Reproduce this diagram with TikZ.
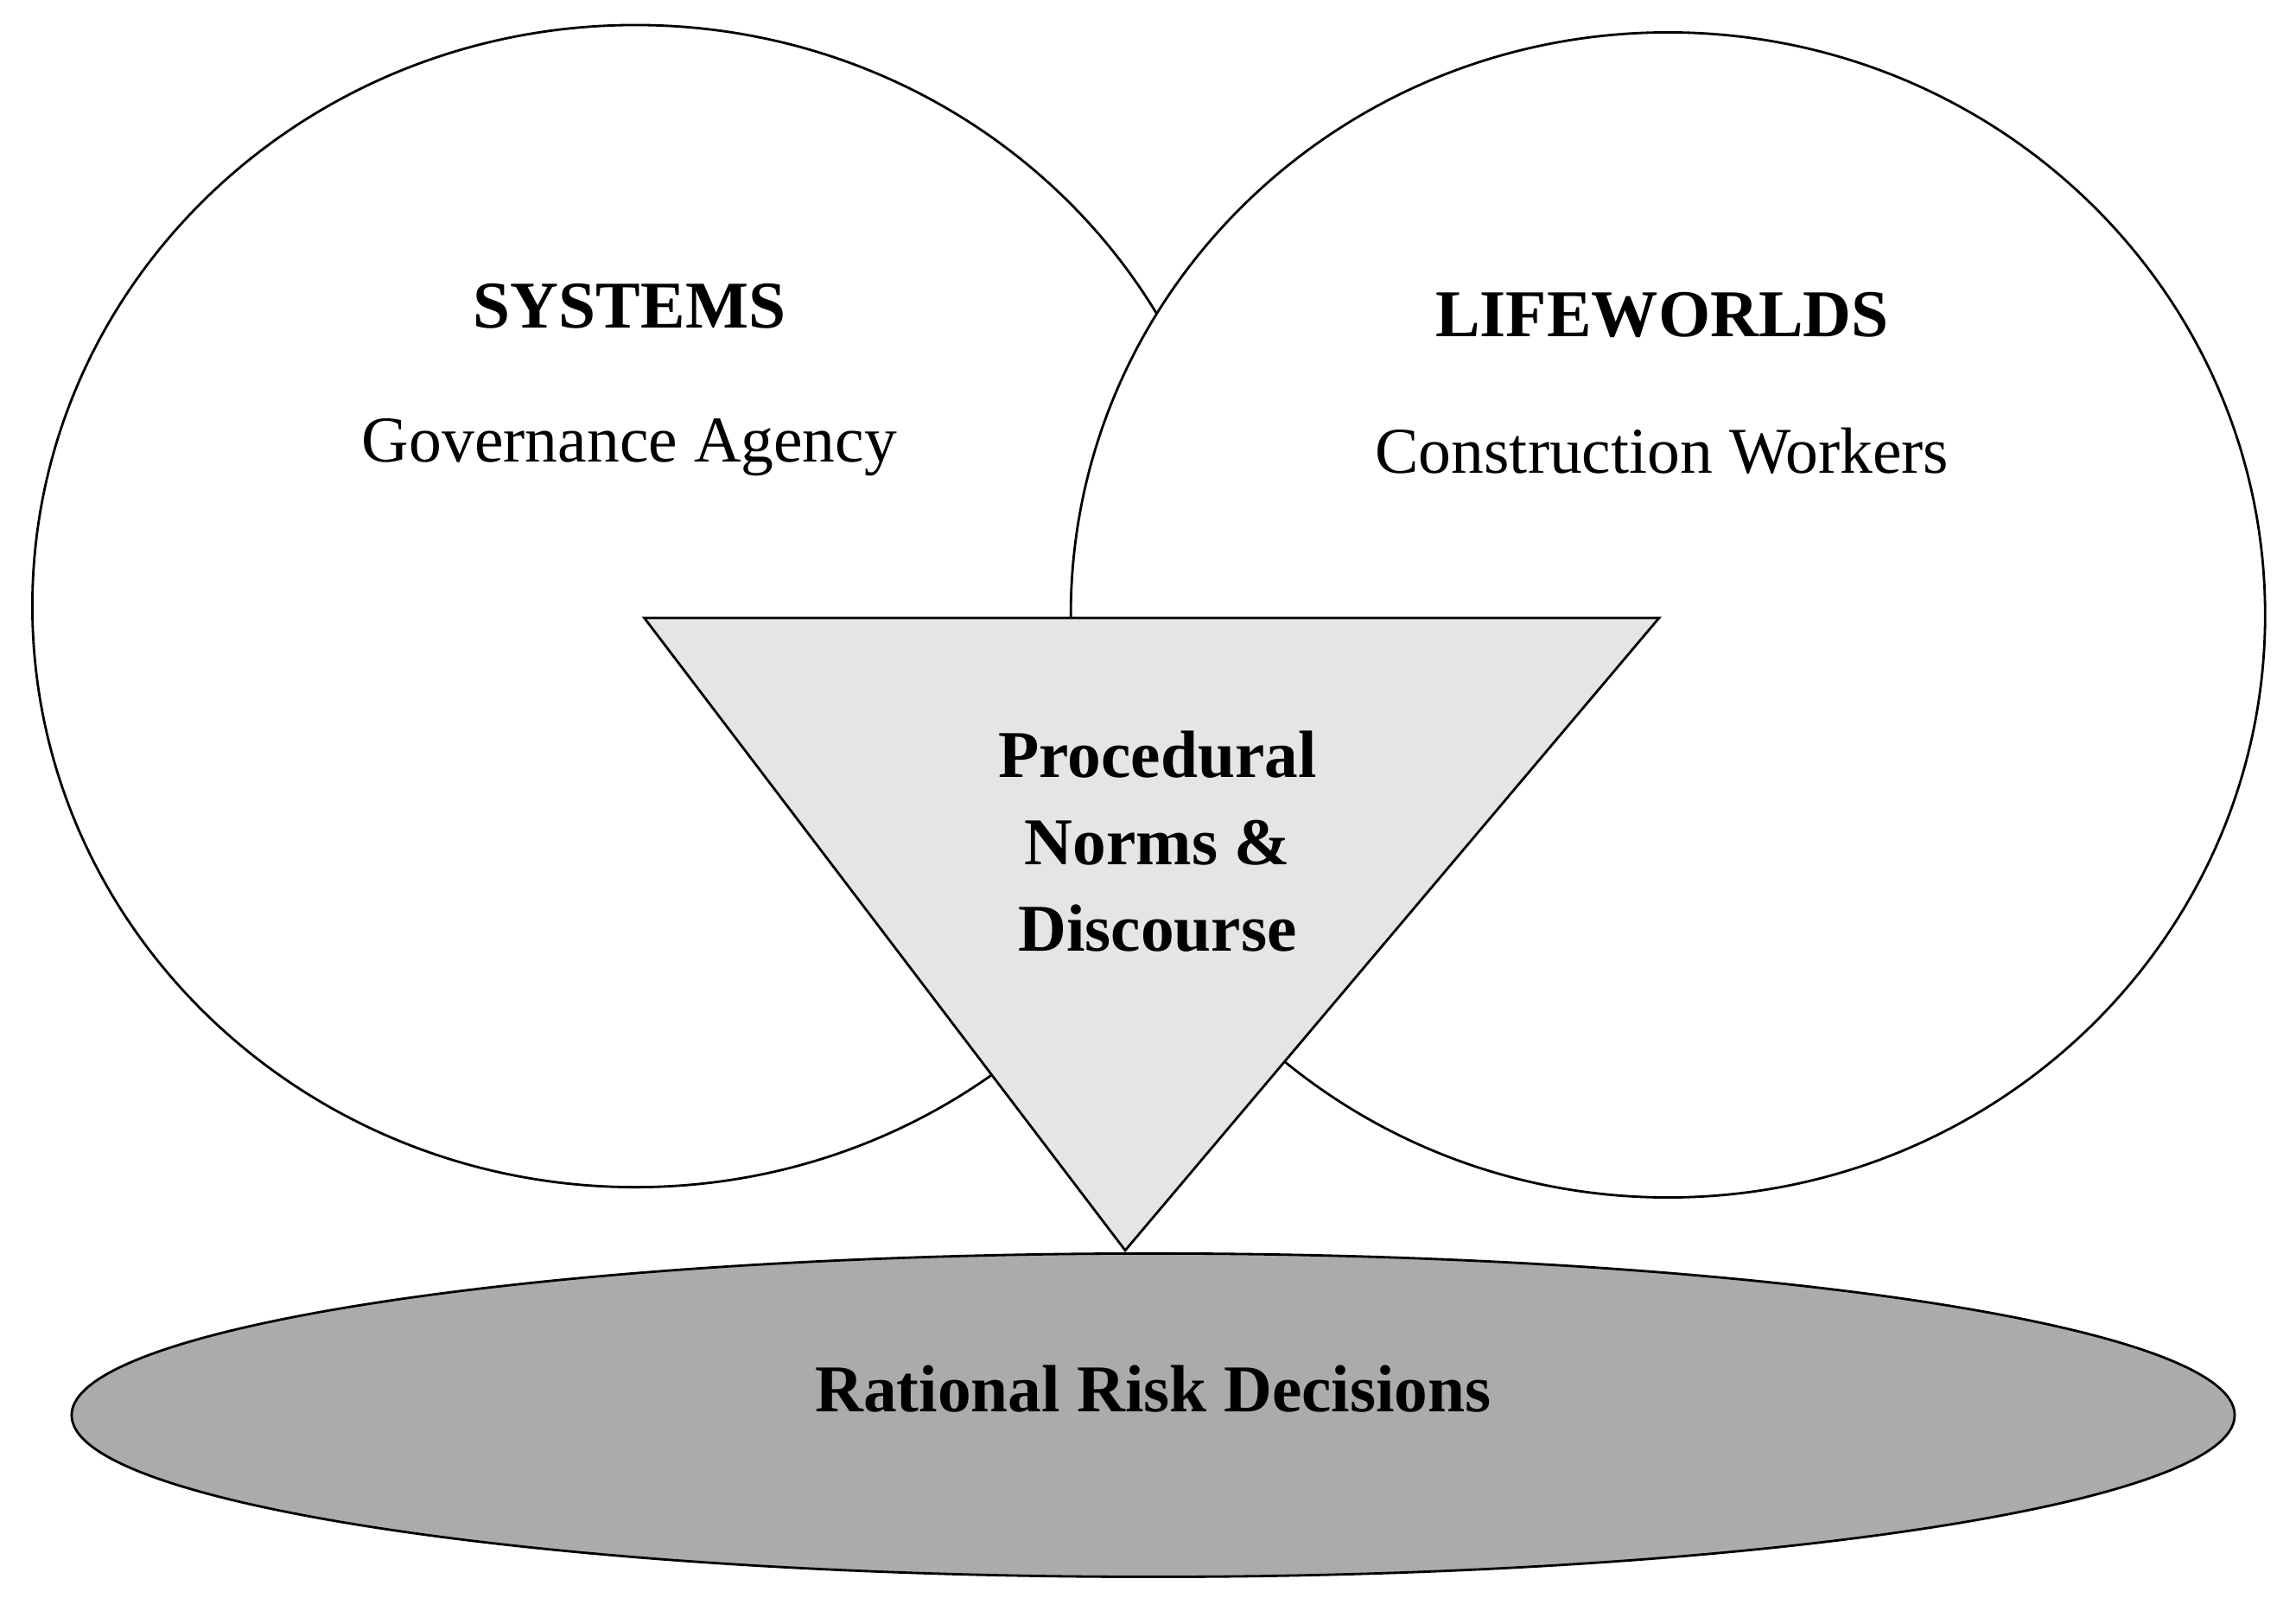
\documentclass[tikz,border=0pt]{standalone}
\usepackage{fontspec}
\setmainfont{Liberation Serif}
\usepackage{tikz}
\usetikzlibrary{positioning}
\usetikzlibrary{shapes.geometric}

\begin{document}
\begin{tikzpicture}
  [
    x = 0.01702cm, y = -0.01702cm,
    sphere/.style = {draw, fill = white, line width = 0.8pt},
    title/.style = {font = \fontsize{22}{26}\selectfont\bfseries},
    body/.style = {font = \fontsize{21.5}{26}\selectfont},
  ]

  \useasboundingbox (0,0) rectangle (1561,1086);

  % the two spheres
  \draw[sphere] (432,412) ellipse [x radius = 410, y radius = 395];
  \draw[sphere] (1134,418) ellipse [x radius = 406, y radius = 396];

  \node[title] (sys) at (428,208) {SYSTEMS};
  \node[body] [below = 0.8cm of sys] (gov) {Governance Agency};
  \node[title] (life) at (1130,214) {LIFEWORLDS};
  \node[body] [below = 0.8cm of life] (work) {Construction Workers};

  % the procedure
  \draw[sphere, fill = black!10] (438,420) -- (1128,420) -- (765,850) -- cycle;
  \node[title, align = center, font = \fontsize{22}{28.5}\selectfont\bfseries]
    (norms) at (787,572) {Procedural\\Norms \&\\Discourse};

  % the outcome
  \node[sphere, ellipse, fill = black!33, inner sep = 0pt,
        minimum width = 25.02cm, minimum height = 3.74cm]
    (risk) at (784,962) {};
  \node[title] (risklabel) at (784,944) {Rational Risk Decisions};

\end{tikzpicture}
\end{document}
